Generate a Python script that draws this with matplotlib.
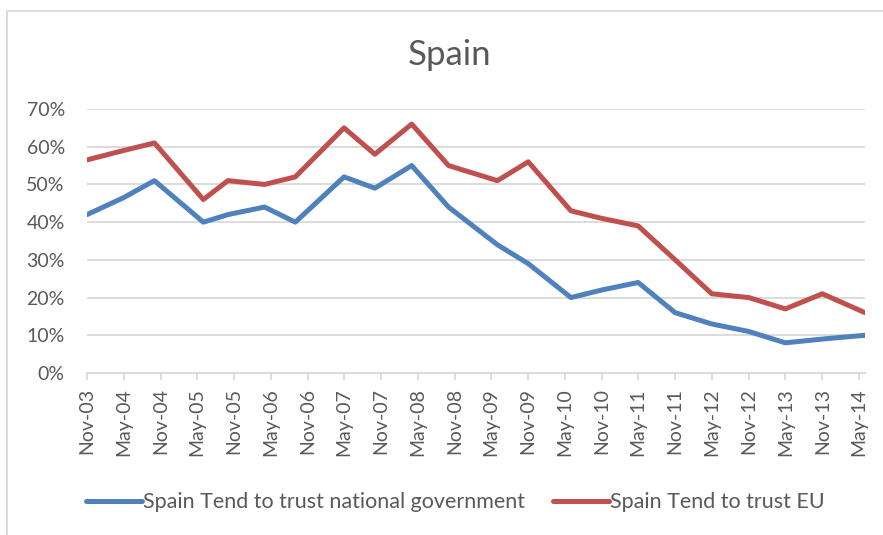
import matplotlib
matplotlib.use("Agg")
import matplotlib.pyplot as plt
import matplotlib.dates as mdates
from matplotlib.patches import Rectangle
from matplotlib.ticker import FuncFormatter
import numpy as np

plt.rcParams['font.family'] = ['Lato', 'DejaVu Sans']

# survey dates (month of fieldwork)
dates = np.array(['2003-11-01', '2004-05-01', '2004-10-01', '2005-06-01', '2005-10-01',
                  '2006-04-01', '2006-09-01', '2007-05-01', '2007-10-01', '2008-04-01',
                  '2008-10-01', '2009-06-01', '2009-11-01', '2010-06-01', '2010-11-01',
                  '2011-05-01', '2011-11-01', '2012-05-01', '2012-11-01', '2013-05-01',
                  '2013-11-01', '2014-06-01'], dtype='datetime64[D]')
trust_gov = [42, 46.5, 51, 40, 42, 44, 40, 52, 49, 55, 44, 34, 29, 20, 22, 24, 16, 13, 11, 8, 9, 10]
trust_eu = [56.5, 59, 61, 46, 51, 50, 52, 65, 58, 66, 55, 51, 56, 43, 41, 39, 30, 21, 20, 17, 21, 16]

label_gov = "Spain Tend to trust national government"
label_eu = "Spain Tend to trust EU"

W, H = 883, 535
fig = plt.figure(figsize=(W / 100, H / 100), dpi=100)
fig.patch.set_facecolor('white')

# chart border
fig.patches.append(Rectangle((7 / W, -0.1), 1.2, 1 - 11 / H + 0.1, transform=fig.transFigure,
                             fill=False, edgecolor='#d9d9d9', lw=1.3))

ax = fig.add_axes([87 / W, 1 - 373 / H, (865 - 87) / W, (373 - 109) / H])

x = dates.astype('datetime64[ms]').astype(object)
ax.plot(x, np.array(trust_gov) / 100, color='#4f81bd', lw=3.6, solid_capstyle='round',
        solid_joinstyle='round', label=label_gov)
ax.plot(x, np.array(trust_eu) / 100, color='#c0504d', lw=3.6, solid_capstyle='round',
        solid_joinstyle='round', label=label_eu)

ax.set_xlim(x[0], x[-1])
ax.set_ylim(0, 0.7)
ax.set_yticks(np.arange(0, 0.71, 0.1))
ax.yaxis.set_major_formatter(FuncFormatter(lambda v, p: f"{v * 100:.0f}%"))
ax.xaxis.set_major_locator(mdates.MonthLocator(bymonth=[5, 11]))
ax.xaxis.set_major_formatter(mdates.DateFormatter('%b-%y'))

ax.grid(axis='y', color='#d9d9d9', lw=1.3)
ax.set_axisbelow(True)
for s in ['top', 'right', 'left']:
    ax.spines[s].set_visible(False)
ax.spines['bottom'].set_color('#d9d9d9')
ax.spines['bottom'].set_linewidth(1.3)

ax.tick_params(axis='y', length=0, pad=16, labelsize=14, labelcolor='#595959')
ax.tick_params(axis='x', length=5, width=1.3, color='#d9d9d9', pad=6,
               labelsize=14, labelcolor='#595959', labelrotation=90)

fig.text(450 / W, 1 - 55 / H, "Spain", ha='center', va='center', fontsize=25,
         color='#595959')

fig.legend(loc='center', bbox_to_anchor=(455 / W, 1 - 502 / H), ncol=2, frameon=False,
           fontsize=15.5, labelcolor='#595959', handlelength=2.6, handletextpad=0.05,
           columnspacing=1.3, handleheight=0.5)

fig.savefig('out.png', dpi=100)
